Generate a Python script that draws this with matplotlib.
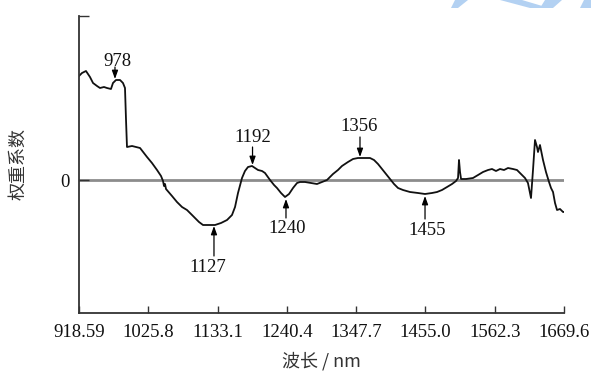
import matplotlib.pyplot as plt
from matplotlib.patches import Polygon

plt.rcParams['font.family'] = ['Liberation Serif', 'Noto Sans CJK SC', 'DejaVu Sans']

# ---------- data ----------
wavelength = [918.6, 923.2, 929.4, 935.6, 940.3, 946.5, 951.1, 957.3, 961.9, 968.1,
              971.2, 975.9, 982.1, 986.7, 989.8, 991.4, 992.9, 1000.7, 1006.9, 1013.1,
              1023.9, 1031.6, 1039.4, 1045.6, 1048.7, 1050.2, 1051.8, 1053.3, 1062.6, 1070.3,
              1078.1, 1085.8, 1093.6, 1098.2, 1104.4, 1110.6, 1119.9, 1129.2, 1138.5, 1147.8,
              1155.5, 1160.2, 1164.8, 1171.0, 1175.6, 1180.3, 1186.5, 1191.1, 1195.8, 1202.0,
              1206.6, 1214.4, 1220.6, 1225.2, 1231.4, 1237.6, 1243.8, 1250.0, 1256.2, 1260.8,
              1268.6, 1277.9, 1287.1, 1294.9, 1302.6, 1311.9, 1319.6, 1325.8, 1335.1, 1342.9,
              1350.6, 1359.9, 1369.2, 1375.4, 1381.6, 1387.8, 1394.0, 1400.2, 1406.4, 1412.6,
              1420.3, 1431.1, 1443.5, 1454.4, 1465.2, 1473.0, 1480.7, 1488.5, 1496.2, 1502.4,
              1505.5, 1507.0, 1508.6, 1510.2, 1517.9, 1528.7, 1536.5, 1544.2, 1552.0, 1558.1,
              1564.3, 1570.5, 1576.7, 1582.9, 1590.6, 1596.8, 1603.0, 1609.2, 1613.8, 1618.5,
              1621.6, 1624.7, 1627.8, 1629.3, 1632.4, 1637.1, 1641.7, 1646.4, 1649.5, 1652.6,
              1655.7, 1658.8, 1663.4, 1668.1, 1669.6]
weight = [1.04, 1.07, 1.09, 1.03, 0.97, 0.94, 0.92, 0.93, 0.92, 0.91,
          0.97, 1.00, 1.00, 0.97, 0.92, 0.60, 0.33, 0.34, 0.33, 0.32,
          0.23, 0.17, 0.10, 0.04, -0.01, -0.06, -0.04, -0.09, -0.16, -0.22,
          -0.27, -0.30, -0.35, -0.38, -0.42, -0.45, -0.45, -0.45, -0.43, -0.40,
          -0.35, -0.27, -0.13, 0.02, 0.09, 0.13, 0.14, 0.12, 0.10, 0.09,
          0.07, 0.00, -0.05, -0.08, -0.13, -0.17, -0.14, -0.08, -0.03, -0.02,
          -0.02, -0.03, -0.04, -0.02, 0.00, 0.06, 0.10, 0.14, 0.18, 0.21,
          0.22, 0.22, 0.22, 0.20, 0.16, 0.11, 0.06, 0.01, -0.04, -0.08,
          -0.10, -0.12, -0.13, -0.14, -0.13, -0.12, -0.10, -0.07, -0.04, -0.01,
          0.02, 0.20, 0.08, 0.01, 0.01, 0.02, 0.05, 0.08, 0.10, 0.11,
          0.09, 0.11, 0.10, 0.12, 0.11, 0.10, 0.06, 0.02, -0.03, -0.18,
          0.10, 0.40, 0.33, 0.28, 0.35, 0.20, 0.08, -0.02, -0.08, -0.12,
          -0.23, -0.30, -0.29, -0.32, -0.32]

xtick_vals = [918.59, 1025.8, 1133.1, 1240.4, 1347.7, 1455.0, 1562.3, 1669.6]
xtick_labels = ['918.59', '1025.8', '1133.1', '1240.4', '1347.7', '1455.0', '1562.3', '1669.6']

# annotated peaks: label, text pos, arrow start, arrow tip
peak_labels = ['978', '1192', '1356', '1127', '1240', '1455']
peak_text_x = [977.4, 1188.0, 1352.2, 1118.3, 1240.7, 1457.5]
peak_text_y = [1.19, 0.43, 0.54, -0.88, -0.48, -0.50]
arrow_x = [974.3, 1187.3, 1353.7, 1127.6, 1239.1, 1454.4]
arrow_y0 = [1.13, 0.33, 0.43, -0.76, -0.38, -0.39]
arrow_y1 = [1.01, 0.15, 0.23, -0.46, -0.19, -0.16]

# ---------- figure ----------
fig = plt.figure(figsize=(5.91, 3.71), dpi=100)
ax = fig.add_axes([79 / 591, 1 - 313 / 371, 485 / 591, 297 / 371])

ax.axhline(0, color='#8c8c8c', lw=2.0, zorder=1)
ax.plot(wavelength, weight, color='#111111', lw=1.3, zorder=2)

for lab, tx, ty, axx, y0, y1 in zip(peak_labels, peak_text_x, peak_text_y,
                                    arrow_x, arrow_y0, arrow_y1):
    ax.annotate('', xy=(axx, y1), xytext=(axx, y0),
                arrowprops=dict(arrowstyle='-|>,head_length=0.5,head_width=0.18',
                                color='black', lw=0.9, shrinkA=0, shrinkB=0))
    ax.text(tx, ty, lab, ha='center', va='center', fontsize=13.5, color='#111111')

ax.set_xlim(918.59, 1669.6)
ax.set_ylim(-1.33, 1.64)
ax.set_xticks(xtick_vals)
ax.set_xticklabels(xtick_labels, fontsize=13.5, color='#111111')
ax.set_yticks([0, 1.64])
ax.set_yticklabels(['0', ''], fontsize=13.5, color='#111111')
ax.tick_params(axis='x', direction='in', length=5, width=1, pad=8, color='#333333')
ax.tick_params(axis='y', direction='in', length=7, width=1, pad=7, color='#333333')

for s in ['top', 'right']:
    ax.spines[s].set_visible(False)
for s in ['left', 'bottom']:
    ax.spines[s].set_color('#333333')
    ax.spines[s].set_linewidth(1.3)

fig.text(18 / 591, 1 - 164 / 371, '权重系数', rotation=90, ha='center', va='center',
         fontsize=13, family=['Noto Sans CJK SC', 'DejaVu Sans'], color='#333333')
fig.text(321 / 591, 1 - 361 / 371, '波长 / nm', ha='center', va='center',
         fontsize=13, family=['Noto Sans CJK SC', 'Liberation Serif'], color='#333333')

# light blue watermark fragment at the top right
wm = [[(455, 0), (468, 0), (458, 8), (451, 8)],
      [(500, 0), (522, 0), (549, 8), (530, 8)],
      [(545, 0), (562, 0), (553, 8), (540, 8)],
      [(584, 0), (591, 0), (591, 8), (580, 8)]]
for pts in wm:
    fig.patches.append(Polygon([(x / 591, 1 - y / 371) for x, y in pts], closed=True,
                               transform=fig.transFigure, color='#b3d1f2', lw=0))

fig.savefig('out.png', dpi=100)
